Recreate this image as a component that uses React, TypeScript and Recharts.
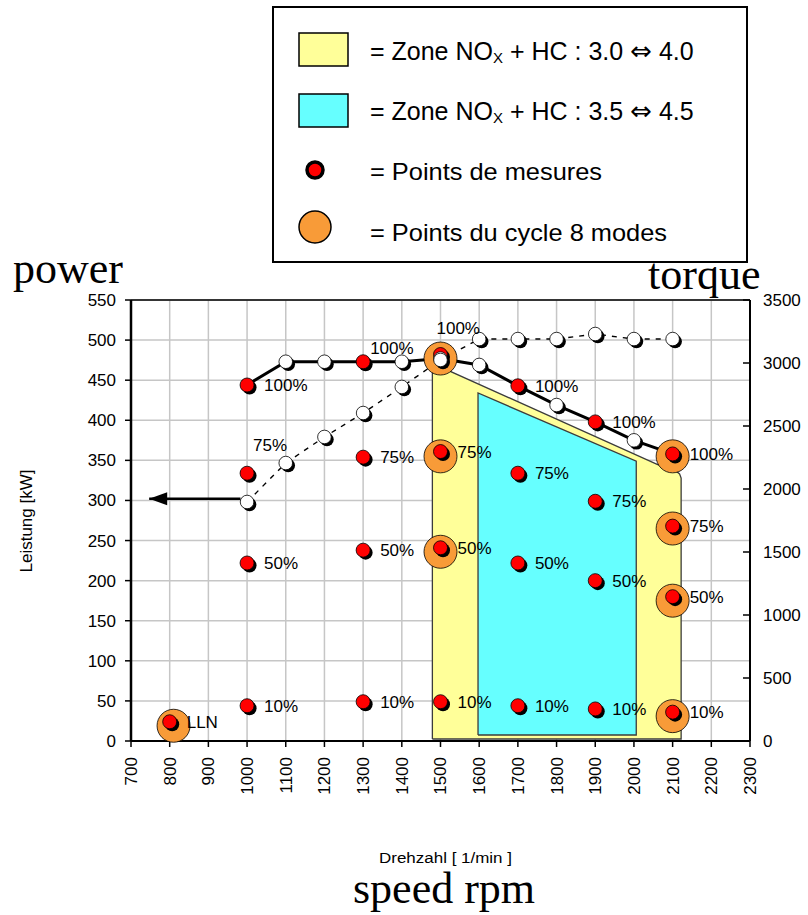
import React from 'react';
import { ComposedChart, XAxis, YAxis, CartesianGrid, Area, Line, Scatter, ReferenceLine } from 'recharts';

// axis ticks
const speedTicks = [700, 800, 900, 1000, 1100, 1200, 1300, 1400, 1500, 1600, 1700, 1800, 1900, 2000, 2100, 2200, 2300];
const powerTicks = [0, 50, 100, 150, 200, 250, 300, 350, 400, 450, 500, 550];
const torqueTicks = [0, 500, 1000, 1500, 2000, 2500, 3000, 3500];

// measuring points: speed [1/min], power [kW], load step
const measurePoints = [
  { x: 800, y: 24, label: 'LLN' },
  { x: 1000, y: 444, label: '100%' },
  { x: 1000, y: 334, label: '75%' },
  { x: 1000, y: 222, label: '50%' },
  { x: 1000, y: 44, label: '10%' },
  { x: 1300, y: 473, label: '100%' },
  { x: 1300, y: 354, label: '75%' },
  { x: 1300, y: 238, label: '50%' },
  { x: 1300, y: 49, label: '10%' },
  { x: 1500, y: 482, label: '100%' },
  { x: 1500, y: 361, label: '75%' },
  { x: 1500, y: 241, label: '50%' },
  { x: 1500, y: 49, label: '10%' },
  { x: 1700, y: 443, label: '100%' },
  { x: 1700, y: 334, label: '75%' },
  { x: 1700, y: 222, label: '50%' },
  { x: 1700, y: 44, label: '10%' },
  { x: 1900, y: 398, label: '100%' },
  { x: 1900, y: 299, label: '75%' },
  { x: 1900, y: 200, label: '50%' },
  { x: 1900, y: 40, label: '10%' },
  { x: 2100, y: 358, label: '100%' },
  { x: 2100, y: 268, label: '75%' },
  { x: 2100, y: 180, label: '50%' },
  { x: 2100, y: 36, label: '10%' },
];

// 8-mode cycle points
const cyclePoints = [
  { x: 810, y: 19 },
  { x: 1500, y: 477 },
  { x: 1500, y: 355 },
  { x: 1500, y: 236 },
  { x: 2100, y: 355 },
  { x: 2100, y: 265 },
  { x: 2100, y: 175 },
  { x: 2100, y: 31 },
];

// full load power [kW]
const powerCurve = [
  { x: 1000, y: 444 },
  { x: 1100, y: 473 },
  { x: 1200, y: 473 },
  { x: 1300, y: 473 },
  { x: 1400, y: 473 },
  { x: 1500, y: 477 },
  { x: 1600, y: 469 },
  { x: 1700, y: 443 },
  { x: 1800, y: 419 },
  { x: 1900, y: 398 },
  { x: 2000, y: 375 },
  { x: 2100, y: 358 },
];
const powerMarkerSpeeds = [1100, 1200, 1400, 1500, 1600, 1800, 2000];

// full load torque [Nm]
const torqueCurve = [
  { x: 1000, y: 1897 },
  { x: 1100, y: 2206 },
  { x: 1200, y: 2413 },
  { x: 1300, y: 2603 },
  { x: 1400, y: 2810 },
  { x: 1500, y: 3024 },
  { x: 1600, y: 3190 },
  { x: 1700, y: 3190 },
  { x: 1800, y: 3190 },
  { x: 1900, y: 3230 },
  { x: 2000, y: 3190 },
  { x: 2100, y: 3190 },
];

// NOx + HC zones, [lower, upper] power in kW
const zone30to40 = [
  { x: 1479, range: [2.5, 471] },
  { x: 2060, range: [2.5, 345] },
  { x: 2108, range: [2.5, 337] },
  { x: 2118, range: [2.5, 333] },
  { x: 2122, range: [2.5, 328] },
];
const zone35to45 = [
  { x: 1597, range: [7.5, 434] },
  { x: 2006, range: [7.5, 349] },
];

// arrow pointing at the power axis
const arrowPath = [
  { x: 983, y: 302 },
  { x: 747, y: 302 },
];

const powerMarkers = powerCurve.filter((p) => powerMarkerSpeeds.includes(p.x));

const outline = (zone: { x: number; range: number[] }[]) => {
  const first = zone[0];
  const last = zone[zone.length - 1];
  return [
    { x: first.x, y: first.range[0] },
    ...zone.map((z) => ({ x: z.x, y: z.range[1] })),
    { x: last.x, y: last.range[0] },
    { x: first.x, y: first.range[0] },
  ];
};

// label offsets (dx, baseline dy) that differ from the default right-hand placement
const labelNudge: Record<string, [number, number]> = {
  '1000-75%': [6, -22],
  '1300-100%': [7, -8],
  '1500-100%': [-4, -21],
};

const RedDot = (p: any) => (
  <g>
    <circle cx={p.cx + 2.5} cy={p.cy + 2.5} r={7} fill="#000" />
    <circle cx={p.cx} cy={p.cy} r={7} fill="#ff0000" stroke="#000" strokeWidth={0.8} />
  </g>
);

const WhiteDot = (p: any) => (
  <g>
    <circle cx={p.cx + 2.5} cy={p.cy + 2.5} r={6.8} fill="#000" />
    <circle cx={p.cx} cy={p.cy} r={6.8} fill="#fff" stroke="#000" strokeWidth={0.8} />
  </g>
);

const OrangeDot = (p: any) => (
  <circle cx={p.cx} cy={p.cy} r={16.5} fill="#f89b38" stroke="#000" strokeWidth={0.8} />
);

const PointLabel = (p: any) => {
  const key = `${p.payload.x}-${p.payload.label}`;
  const [dx, dy] = labelNudge[key] || [17, 6];
  return (
    <text x={p.cx + dx} y={p.cy + dy} fontSize={17} fill="#000">
      {p.payload.label}
    </text>
  );
};

const ArrowHead = (p: any) => {
  if (p.index !== arrowPath.length - 1) return <g />;
  const { cx, cy } = p;
  return <path d={`M${cx},${cy} L${cx + 18},${cy - 6.5} L${cx + 18},${cy + 6.5} Z`} fill="#000" />;
};

const Nothing = () => <g />;

const SpeedTick = (p: any) => (
  <text
    x={p.x}
    y={p.y}
    transform={`rotate(-90 ${p.x} ${p.y})`}
    textAnchor="end"
    dy="0.35em"
    fontSize={17}
    fill="#000"
  >
    {p.payload.value}
  </text>
);

const TorqueTick = (p: any) => (
  <g>
    <line x1={p.x - 20} x2={p.x - 13} y1={p.y} y2={p.y} stroke="#000" strokeWidth={1.5} />
    <text x={p.x} y={p.y} dy="0.35em" textAnchor="start" fontSize={17} fill="#000">
      {p.payload.value}
    </text>
  </g>
);

const serif = "'Liberation Serif', 'Times New Roman', serif";
const arrows = "'DejaVu Sans', sans-serif";

const ZoneLegendText = ({ y, from, to }: { y: number; from: string; to: string }) => (
  <text x={370} y={y} fontSize={25} fill="#000">
    = Zone NO
    <tspan fontSize={15} dy={3}>X</tspan>
    <tspan dy={-3}> + HC : {from} </tspan>
    <tspan fontFamily={arrows} fontSize={26}>⇔</tspan>
    <tspan> {to}</tspan>
  </text>
);

export default function App() {
  return (
    <div
      style={{
        position: 'absolute',
        left: 0,
        top: 0,
        width: 808,
        height: 915,
        background: '#fff',
        fontFamily: "'Liberation Sans', Arial, sans-serif",
      }}
    >
      <ComposedChart width={808} height={915} margin={{ top: 300, right: 8, bottom: 114, left: 61 }}>
        <XAxis
          dataKey="x"
          type="number"
          domain={[700, 2300]}
          ticks={speedTicks}
          interval={0}
          height={60}
          tick={<SpeedTick />}
          tickSize={6}
          tickMargin={10}
          axisLine={{ stroke: '#000', strokeWidth: 2 }}
          tickLine={{ stroke: '#000', strokeWidth: 1.5 }}
        />
        <YAxis
          dataKey="y"
          type="number"
          domain={[0, 550]}
          ticks={powerTicks}
          interval={0}
          width={70}
          tickSize={6}
          tickMargin={9}
          tick={{ fontSize: 17, fill: '#000' }}
          axisLine={{ stroke: '#000', strokeWidth: 2.5 }}
          tickLine={{ stroke: '#000', strokeWidth: 1.5 }}
        />
        <YAxis
          yAxisId="right"
          orientation="right"
          dataKey="y"
          type="number"
          domain={[0, 3500]}
          ticks={torqueTicks}
          interval={0}
          width={50}
          tickSize={7}
          tickMargin={6}
          tick={<TorqueTick />}
          tickLine={false}
          axisLine={{ stroke: '#000', strokeWidth: 2 }}
        />

        <Area
          data={zone30to40}
          dataKey="range"
          type="linear"
          fill="#ffff99"
          fillOpacity={1}
          stroke="none"
          activeDot={false}
          isAnimationActive={false}
        />
        <Area
          data={zone35to45}
          dataKey="range"
          type="linear"
          fill="#66ffff"
          fillOpacity={1}
          stroke="none"
          activeDot={false}
          isAnimationActive={false}
        />
        <CartesianGrid stroke="#c6c6c6" strokeWidth={1.5} />
        <Scatter
          data={outline(zone30to40)}
          line={{ stroke: '#3c3c3c', strokeWidth: 1.3 }}
          lineType="joint"
          shape={Nothing}
          isAnimationActive={false}
        />
        <Scatter
          data={outline(zone35to45)}
          line={{ stroke: '#3c3c3c', strokeWidth: 1.3 }}
          lineType="joint"
          shape={Nothing}
          isAnimationActive={false}
        />
        <ReferenceLine y={550} stroke="#000" strokeWidth={1.5} />

        <Scatter
          data={arrowPath}
          line={{ stroke: '#000', strokeWidth: 2.5 }}
          lineType="joint"
          shape={ArrowHead}
          isAnimationActive={false}
        />
        <Scatter data={cyclePoints} shape={OrangeDot} isAnimationActive={false} />
        <Line
          data={powerCurve}
          dataKey="y"
          type="linear"
          stroke="#000"
          strokeWidth={3}
          dot={false}
          activeDot={false}
          isAnimationActive={false}
        />
        <Line
          data={torqueCurve}
          yAxisId="right"
          dataKey="y"
          type="linear"
          stroke="#000"
          strokeWidth={1.4}
          strokeDasharray="5 6"
          dot={false}
          activeDot={false}
          isAnimationActive={false}
        />
        <Scatter data={measurePoints} shape={RedDot} isAnimationActive={false} />
        <Scatter data={powerMarkers} shape={WhiteDot} isAnimationActive={false} />
        <Scatter data={torqueCurve} yAxisId="right" shape={WhiteDot} isAnimationActive={false} />
        <Scatter data={measurePoints} shape={PointLabel} isAnimationActive={false} />
      </ComposedChart>

      <svg
        width={808}
        height={915}
        style={{ position: 'absolute', left: 0, top: 0, pointerEvents: 'none' }}
      >
        <rect x={273} y={7} width={474} height={255} fill="#fff" stroke="#000" strokeWidth={2} />
        <rect x={299} y={33} width={49} height={33} fill="#ffff99" stroke="#000" strokeWidth={1.5} />
        <rect x={299} y={94} width={49} height={33} fill="#66ffff" stroke="#000" strokeWidth={1.5} />
        <circle cx={315} cy={170} r={8} fill="#ff0000" stroke="#000" strokeWidth={3.5} />
        <circle cx={315} cy={227} r={16} fill="#f89b38" stroke="#000" strokeWidth={1.5} />
        <ZoneLegendText y={60} from="3.0" to="4.0" />
        <ZoneLegendText y={120} from="3.5" to="4.5" />
        <text x={370} y={180} fontSize={24} textLength={232} lengthAdjust="spacingAndGlyphs" fill="#000">
          = Points de mesures
        </text>
        <text x={370} y={241} fontSize={24} textLength={297} lengthAdjust="spacingAndGlyphs" fill="#000">
          = Points du cycle 8 modes
        </text>

        <text x={13} y={283} fontSize={44} fontFamily={serif} fill="#000">power</text>
        <text x={648} y={289} fontSize={44} fontFamily={serif} fill="#000">torque</text>
        <text x={353} y={903} fontSize={44} fontFamily={serif} fill="#000">speed rpm</text>
        <text x={379} y={863} fontSize={14} textLength={133} lengthAdjust="spacingAndGlyphs" fill="#000">
          Drehzahl [ 1/min ]
        </text>
        <text x={0} y={0} transform="translate(32 521) rotate(-90)" textAnchor="middle" fontSize={17} fill="#000">
          Leistung [kW]
        </text>
      </svg>
    </div>
  );
}
